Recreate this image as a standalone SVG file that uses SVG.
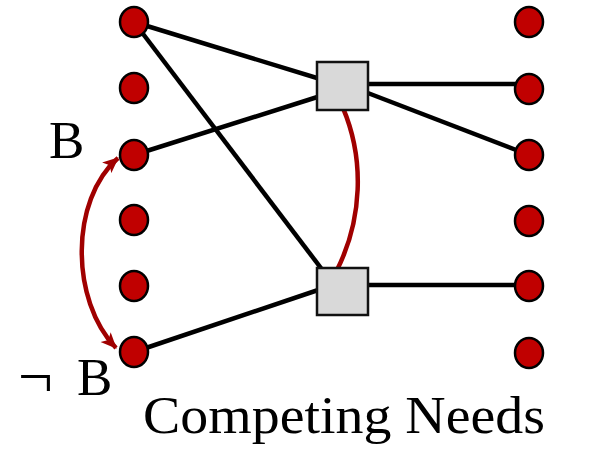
<svg xmlns="http://www.w3.org/2000/svg" width="615" height="454" viewBox="0 0 615 454">
  <style>
    .edge { stroke: #000; stroke-width: 4.5; fill: none; }
    .mutex { stroke: #a00000; stroke-width: 4.5; fill: none; }
    .dot { fill: #c00000; stroke: #000; stroke-width: 2.5; }
    .action { fill: #d9d9d9; stroke: #111; stroke-width: 2.5; }
    .label { font-family: "Liberation Serif", "DejaVu Serif", serif; fill: #000; }
  </style>
  <defs>
    <marker id="head" markerUnits="userSpaceOnUse" markerWidth="18" markerHeight="16" refX="15" refY="7" orient="auto-start-reverse" viewBox="0 0 18 14">
      <path d="M0,0 L16,7 L0,14 L4,7 Z" fill="#a00000"/>
    </marker>
  </defs>

  <!-- connectors -->
  <g id="connectors">
    <line class="edge" x1="134" y1="22" x2="330" y2="82"/>
    <line class="edge" x1="134" y1="22" x2="330" y2="280"/>
    <line class="edge" x1="134" y1="155" x2="330" y2="93"/>
    <line class="edge" x1="134" y1="352" x2="330" y2="286"/>
    <line class="edge" x1="360" y1="84" x2="529" y2="84"/>
    <line class="edge" x1="360" y1="90" x2="529" y2="155"/>
    <line class="edge" x1="360" y1="285" x2="529" y2="285"/>
    <path class="mutex" d="M343,108 C365,160 362,220 337,270"/>
    <path class="mutex" d="M118,158 C70,200 70,300 116,348" marker-start="url(#head)" marker-end="url(#head)"/>
  </g>

  <!-- action nodes -->
  <g id="action-top"><rect class="action" x="317" y="62" width="51" height="48"/></g>
  <g id="action-bottom"><rect class="action" x="317" y="268" width="51" height="47"/></g>

  <!-- left proposition level -->
  <g id="left-1"><ellipse class="dot" cx="134" cy="22" rx="14" ry="15"/></g>
  <g id="left-2"><ellipse class="dot" cx="134" cy="88" rx="14" ry="15"/></g>
  <g id="left-3"><ellipse class="dot" cx="134" cy="155" rx="14" ry="15"/></g>
  <g id="left-4"><ellipse class="dot" cx="134" cy="220" rx="14" ry="15"/></g>
  <g id="left-5"><ellipse class="dot" cx="134" cy="286" rx="14" ry="15"/></g>
  <g id="left-6"><ellipse class="dot" cx="134" cy="352" rx="14" ry="15"/></g>

  <!-- right proposition level -->
  <g id="right-1"><ellipse class="dot" cx="529" cy="22" rx="14" ry="15"/></g>
  <g id="right-2"><ellipse class="dot" cx="529" cy="89" rx="14" ry="15"/></g>
  <g id="right-3"><ellipse class="dot" cx="529" cy="155" rx="14" ry="15"/></g>
  <g id="right-4"><ellipse class="dot" cx="529" cy="221" rx="14" ry="15"/></g>
  <g id="right-5"><ellipse class="dot" cx="529" cy="286" rx="14" ry="15"/></g>
  <g id="right-6"><ellipse class="dot" cx="529" cy="353" rx="14" ry="15"/></g>

  <!-- labels -->
  <text class="label" x="49" y="158" font-size="53">B</text>
  <text class="label" x="18" y="395" font-size="53"><tspan font-size="62" y="397">¬</tspan><tspan x="77" y="395">B</tspan></text>
  <text class="label" x="143" y="433" font-size="52" textLength="402" lengthAdjust="spacingAndGlyphs">Competing Needs</text>
</svg>
